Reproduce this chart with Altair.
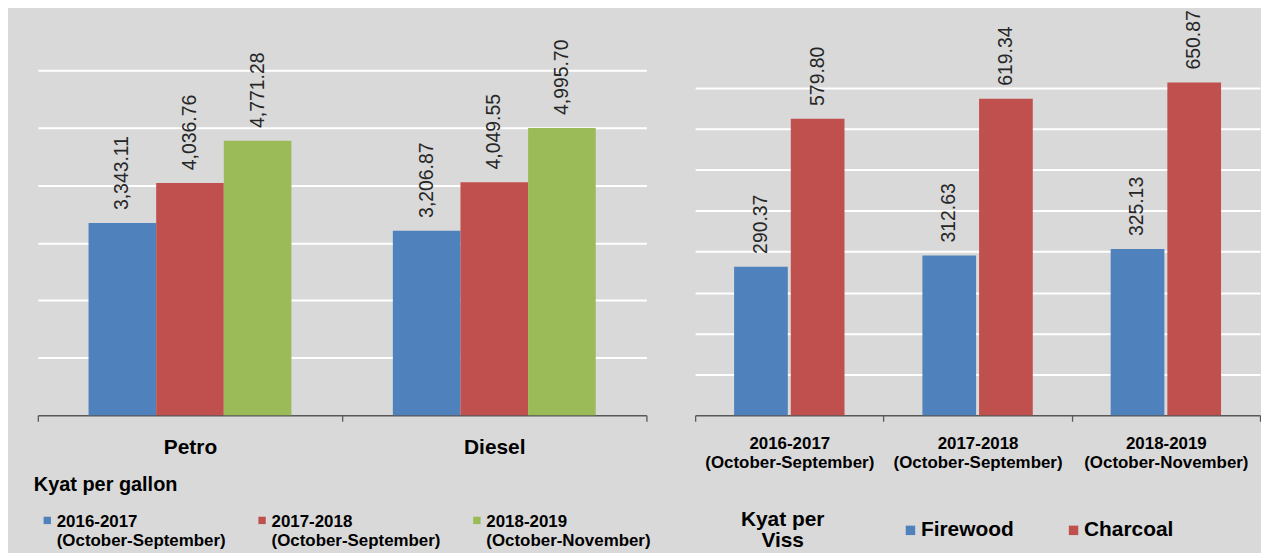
import altair as alt
import pandas as pd

# ---------------- data ----------------
fuel_products = ["Petro", "Diesel"]
fuel_periods = ["2016-2017|(October-September)",
                "2017-2018|(October-September)",
                "2018-2019|(October-November)"]
fuel_2016_2017 = [3343.11, 3206.87]
fuel_2017_2018 = [4036.76, 4049.55]
fuel_2018_2019 = [4771.28, 4995.70]
fuel_colors = ["#4f81bd", "#c0504d", "#9bbb59"]
fuel_grid = [1000, 2000, 3000, 4000, 5000, 6000]

wood_periods = ["2016-2017|(October-September)",
                "2017-2018|(October-September)",
                "2018-2019|(October-November)"]
wood_types = ["Firewood", "Charcoal"]
firewood = [290.37, 312.63, 325.13]
charcoal = [579.80, 619.34, 650.87]
wood_colors = ["#4f81bd", "#c0504d"]
wood_grid = [80, 160, 240, 320, 400, 480, 560, 640]

# ---------------- tables ----------------
fuel_rows = []
for i, prod in enumerate(fuel_products):
    for per, vals in zip(fuel_periods, [fuel_2016_2017, fuel_2017_2018, fuel_2018_2019]):
        fuel_rows.append({"product": prod, "period": per, "value": vals[i]})
fuel_df = pd.DataFrame(fuel_rows)

wood_rows = []
for i, per in enumerate(wood_periods):
    for typ, vals in zip(wood_types, [firewood, charcoal]):
        wood_rows.append({"period": per, "type": typ, "value": vals[i]})
wood_df = pd.DataFrame(wood_rows)

FONT = "Liberation Sans"
H = 347
W1 = 612
W2 = 568
LABEL_GAP = 13

# square symbol drawn slightly below the legend row anchor, so it sits beside the first label line
LOW_SQUARE = "M-1,0.62L1,0.62L1,2.62L-1,2.62Z"

# ---------------- left panel: fuel ----------------
x1 = alt.X("product:N", sort=fuel_products,
           scale=alt.Scale(paddingInner=0, paddingOuter=0),
           axis=alt.Axis(title=None, labelAngle=0, labelFont=FONT, labelFontSize=21,
                         labelFontWeight="bold", labelColor="#000000", labelPadding=15,
                         domainColor="#595959", domainWidth=1.3, tickColor="#595959",
                         tickWidth=1.3, tickSize=6, tickBand="extent", grid=False))
xo1 = alt.XOffset("period:N", sort=fuel_periods,
                  scale=alt.Scale(paddingInner=0, paddingOuter=0.75))
y1 = alt.Y("value:Q", scale=alt.Scale(domain=[0, 6000], nice=False),
           axis=alt.Axis(values=fuel_grid, title=None, labels=False, ticks=False,
                         domain=False, grid=True, gridColor="#ffffff", gridWidth=2))
color1 = alt.Color("period:N", sort=fuel_periods,
                   scale=alt.Scale(domain=fuel_periods, range=fuel_colors),
                   legend=alt.Legend(orient="none", legendX=-4, legendY=407,
                                     direction="horizontal", columns=3, padding=0,
                                     title="Kyat per gallon", titleFont=FONT,
                                     titleFontSize=20, titleFontWeight="bold",
                                     titleColor="#000000", titlePadding=11,
                                     labelFont=FONT, labelFontSize=17,
                                     labelFontWeight="bold", labelColor="#000000",
                                     labelExpr="split(datum.label, '|')",
                                     labelBaseline="top", labelOffset=1, labelLimit=400,
                                     symbolType=LOW_SQUARE, symbolSize=55,
                                     symbolStrokeWidth=0, symbolOffset=5,
                                     columnPadding=22, gridAlign="all"))

bars1 = alt.Chart(fuel_df).mark_bar().encode(x=x1, xOffset=xo1, y=y1, color=color1)
text1 = alt.Chart(fuel_df).mark_text(
    angle=270, align="left", baseline="middle", dx=LABEL_GAP,
    font=FONT, fontSize=19.5, color="#262626"
).encode(x=alt.X("product:N", sort=fuel_products), xOffset=xo1, y="value:Q",
         text=alt.Text("value:Q", format=",.2f"))
left = alt.layer(bars1, text1).properties(width=W1, height=H)

# ---------------- right panel: wood ----------------
x2 = alt.X("period:N", sort=wood_periods,
           scale=alt.Scale(paddingInner=0, paddingOuter=0),
           axis=alt.Axis(title=None, labelAngle=0, labelFont=FONT, labelFontSize=17,
                         labelFontWeight="bold", labelColor="#000000", labelPadding=14,
                         labelExpr="split(datum.label, '|')", labelLineHeight=19.5,
                         domainColor="#595959", domainWidth=1.3, tickColor="#595959",
                         tickWidth=1.3, tickSize=6, tickBand="extent", grid=False))
xo2 = alt.XOffset("type:N", sort=wood_types,
                  scale=alt.Scale(paddingInner=0.0526, paddingOuter=0.687))
y2 = alt.Y("value:Q", scale=alt.Scale(domain=[0, 675], nice=False),
           axis=alt.Axis(values=wood_grid, title=None, labels=False, ticks=False,
                         domain=False, grid=True, gridColor="#ffffff", gridWidth=2))
color2 = alt.Color("type:N", sort=wood_types,
                   scale=alt.Scale(domain=wood_types, range=wood_colors),
                   legend=alt.Legend(orient="none", legendX=46, legendY=452,
                                     direction="horizontal", padding=0,
                                     title=["Kyat per", "Viss"], titleOrient="left",
                                     titleAlign="center", titleAnchor="middle",
                                     titleFont=FONT, titleFontSize=21,
                                     titleFontWeight="bold", titleColor="#000000",
                                     titleLineHeight=21.5, titlePadding=33,
                                     labelFont=FONT, labelFontSize=21,
                                     labelFontWeight="bold", labelColor="#000000",
                                     labelOffset=0, labelLimit=300,
                                     symbolType="square", symbolSize=90,
                                     symbolStrokeWidth=0, columnPadding=49))

bars2 = alt.Chart(wood_df).mark_bar().encode(x=x2, xOffset=xo2, y=y2, color=color2)
text2 = alt.Chart(wood_df).mark_text(
    angle=270, align="left", baseline="middle", dx=LABEL_GAP,
    font=FONT, fontSize=19.5, color="#262626"
).encode(x=alt.X("period:N", sort=wood_periods), xOffset=xo2, y="value:Q",
         text=alt.Text("value:Q", format=".2f"))
right = alt.layer(bars2, text2).properties(width=W2, height=H)

chart = alt.hconcat(left, right, spacing=49, bounds="flush").resolve_scale(
    x="independent", y="independent", color="independent", xOffset="independent"
).properties(
    padding={"left": 26, "top": 0, "right": 0, "bottom": 0}
).configure(
    background="#d9d9d9", font=FONT
).configure_view(stroke=None)

chart.save("out.html", embed_options={"renderer": "svg", "actions": False})
